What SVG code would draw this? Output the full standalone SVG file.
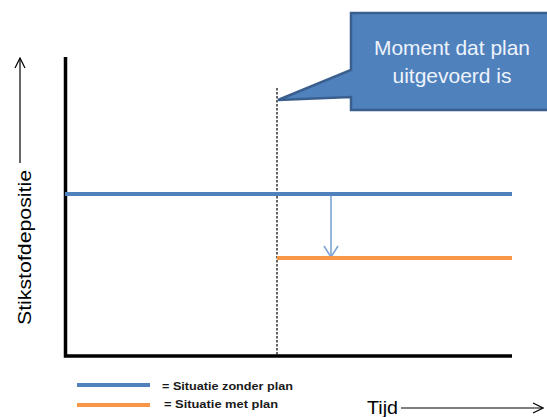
<svg xmlns="http://www.w3.org/2000/svg" width="547" height="417" viewBox="0 0 547 417">
  <style>
    .axis { stroke: #000; stroke-width: 3.5; fill: none; }
    .thin { stroke: #000; stroke-width: 1.2; fill: none; }
    .blue { stroke: #4f81bd; stroke-width: 4; fill: none; }
    .orange { stroke: #f79646; stroke-width: 4; fill: none; }
    .lbl { font-family: "Liberation Sans", Arial, sans-serif; fill: #000; }
    .legend { font-family: "Liberation Sans", Arial, sans-serif; font-size: 10.5px; fill: #1a1a1a; font-weight: bold; }
    .callout-text { font-family: "Liberation Sans", Arial, sans-serif; font-size: 21px; fill: #eef3fb; text-anchor: middle; }
  </style>
  <defs>
    <marker id="openHead" viewBox="0 0 12 12" refX="11" refY="6" markerWidth="12" markerHeight="12" markerUnits="userSpaceOnUse" orient="auto">
      <path d="M1,1 L11,6 L1,11" fill="none" stroke="#000" stroke-width="1.2"/>
    </marker>
    <marker id="blueHead" viewBox="0 0 16 16" refX="14" refY="8" markerWidth="16" markerHeight="16" markerUnits="userSpaceOnUse" orient="auto">
      <path d="M3,1 L14,8 L3,15" fill="none" stroke="#7ea3d6" stroke-width="1.6"/>
    </marker>
  </defs>

  <!-- axes -->
  <g id="axes">
    <path class="axis" d="M65.5,57 V356 H512"/>
  </g>

  <g id="connectors">
    <!-- moment of implementation -->
    <line x1="277" y1="88" x2="277" y2="357" stroke="#000" stroke-width="1.2" stroke-dasharray="2.5,1.5"/>
    <!-- reduction arrow -->
    <line x1="331" y1="195" x2="331" y2="257" stroke="#7ea3d6" stroke-width="1.6" marker-end="url(#blueHead)"/>
    <!-- axis arrows -->
    <line class="thin" x1="20" y1="163" x2="20" y2="58" marker-end="url(#openHead)"/>
    <line class="thin" x1="401" y1="408" x2="543" y2="408" marker-end="url(#openHead)"/>
  </g>

  <!-- scenario lines -->
  <g id="zonder-plan">
    <line class="blue" x1="65" y1="194" x2="512" y2="194"/>
  </g>
  <g id="met-plan">
    <line class="orange" x1="277" y1="258" x2="512" y2="258"/>
  </g>

  <!-- callout -->
  <g id="callout">
    <path d="M351,13 H549 V110 H351 V97 L278,100 L351,70 Z" fill="#4f81bd" stroke="#3a5f8e" stroke-width="2.5" stroke-linejoin="miter"/>
    <text class="callout-text" x="452" y="55" textLength="156" lengthAdjust="spacingAndGlyphs">Moment dat plan</text>
    <text class="callout-text" x="452" y="83">uitgevoerd is</text>
  </g>

  <!-- axis labels -->
  <g id="y-label">
    <text class="lbl" font-size="19" transform="translate(31,325) rotate(-90)" textLength="155" lengthAdjust="spacingAndGlyphs">Stikstofdepositie</text>
  </g>
  <g id="x-label">
    <text class="lbl" font-size="19" x="367" y="414" textLength="31" lengthAdjust="spacingAndGlyphs">Tijd</text>
  </g>

  <!-- legend -->
  <g id="legend">
    <line class="blue" x1="77" y1="385" x2="150" y2="385" stroke-width="3"/>
    <line class="orange" x1="77" y1="405" x2="150" y2="405" stroke-width="3"/>
    <text class="legend" x="162" y="390" textLength="131" lengthAdjust="spacingAndGlyphs">= Situatie zonder plan</text>
    <text class="legend" x="164" y="408" textLength="114" lengthAdjust="spacingAndGlyphs">= Situatie met plan</text>
  </g>
</svg>
